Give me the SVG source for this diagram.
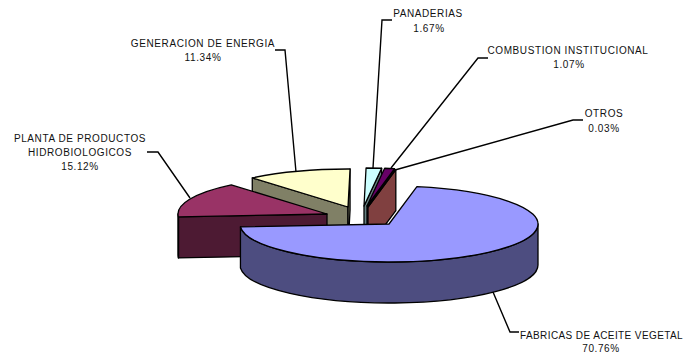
<svg xmlns="http://www.w3.org/2000/svg" width="685" height="354" viewBox="0 0 685 354">
<style>
.f{stroke:#000;stroke-width:1.3;stroke-linejoin:round}
.lead{fill:none;stroke:#000;stroke-width:1.4;stroke-linejoin:miter}
text{font-family:"Liberation Sans",Arial,sans-serif;font-size:10px;letter-spacing:0.6px;fill:#111;text-anchor:middle}
</style>
<rect width="685" height="354" fill="#fff"/>
<g id="connectors">
<polyline class="lead" points="275,50 285,50 296,172"/>
<polyline class="lead" points="147,152 158,152 190,198"/>
<polyline class="lead" points="392,20 382,20 373,168"/>
<polyline class="lead" points="488,58 478,58 391,168"/>
<polyline class="lead" points="583,120 573,120 395,170"/>
<polyline class="lead" points="519,332 510,332 493,292"/>
</g>
<g id="slice-panaderias">
<path class="f" fill="#668080" d="M364,206 L381.65,168.27 L381.65,209.27 L364,247 Z"/>
<path class="f" fill="#CCFFFF" d="M364,206 L366.06,168 A149,38 0 0 1 381.65,168.27 Z"/>
</g>
<g id="slice-combustion">
<path class="f" fill="#330033" d="M367,206 L394.55,168.66 L394.55,209.66 L367,247 Z"/>
<path class="f" fill="#660066" d="M367,206 L384.65,168.27 A149,38 0 0 1 394.55,168.66 Z"/>
</g>
<g id="slice-otros">
<path class="f" fill="#804040" d="M368,207 L395.83,169.67 L395.83,210.67 L368,248 Z"/>
<path class="f" fill="#FF8080" d="M368,207 L395.55,169.66 L395.83,169.67 Z"/>
</g>
<g id="slice-generacion">
<path class="f" fill="#808066" d="M348,207 L252.27,177.88 L252.27,218.88 L348,248 Z"/>
<path class="f" fill="#808066" d="M348,207 L350.06,169 L350.06,210 L348,248 Z"/>
<path class="f" fill="#FFFFCC" d="M348,207 L252.27,177.88 A149,38 0 0 1 350.06,169 Z"/>
</g>
<g id="slice-planta">
<path class="f" fill="#4D1A33" d="M327,214 L178.45,216.96 L178.45,257.96 L327,255 Z"/>
<path class="f" fill="#4D1A33" d="M178.45,216.96 A149,38 0 0 1 178,214 L178,255 A149,38 0 0 0 178.45,257.96 Z"/>
<path class="f" fill="#993366" d="M327,214 L178.45,216.96 A149,38 0 0 1 231.27,184.88 Z"/>
</g>
<g id="slice-fabricas">
<path class="f" fill="#4D4D80" d="M538,224 A149,38 0 0 1 240.45,226.96 L240.45,267.96 A149,38 0 0 0 538,265 Z"/>
<path class="f" fill="#9999FF" d="M389,224 L416.92,186.67 A149,38 0 1 1 240.45,226.96 Z"/>
</g>
<g id="labels">
<text x="203" y="47">GENERACION DE ENERGIA</text>
<text x="203" y="61">11.34%</text>
<text x="80" y="142">PLANTA DE PRODUCTOS</text>
<text x="80" y="156">HIDROBIOLOGICOS</text>
<text x="80" y="170">15.12%</text>
<text x="428" y="17">PANADERIAS</text>
<text x="429" y="32">1.67%</text>
<text x="568" y="54">COMBUSTION INSTITUCIONAL</text>
<text x="569" y="68">1.07%</text>
<text x="604" y="117">OTROS</text>
<text x="604" y="132">0.03%</text>
<text x="520" y="339" style="text-anchor:start;letter-spacing:0.4px">FABRICAS DE ACEITE VEGETAL</text>
<text x="601" y="352">70.76%</text>
</g>
</svg>
